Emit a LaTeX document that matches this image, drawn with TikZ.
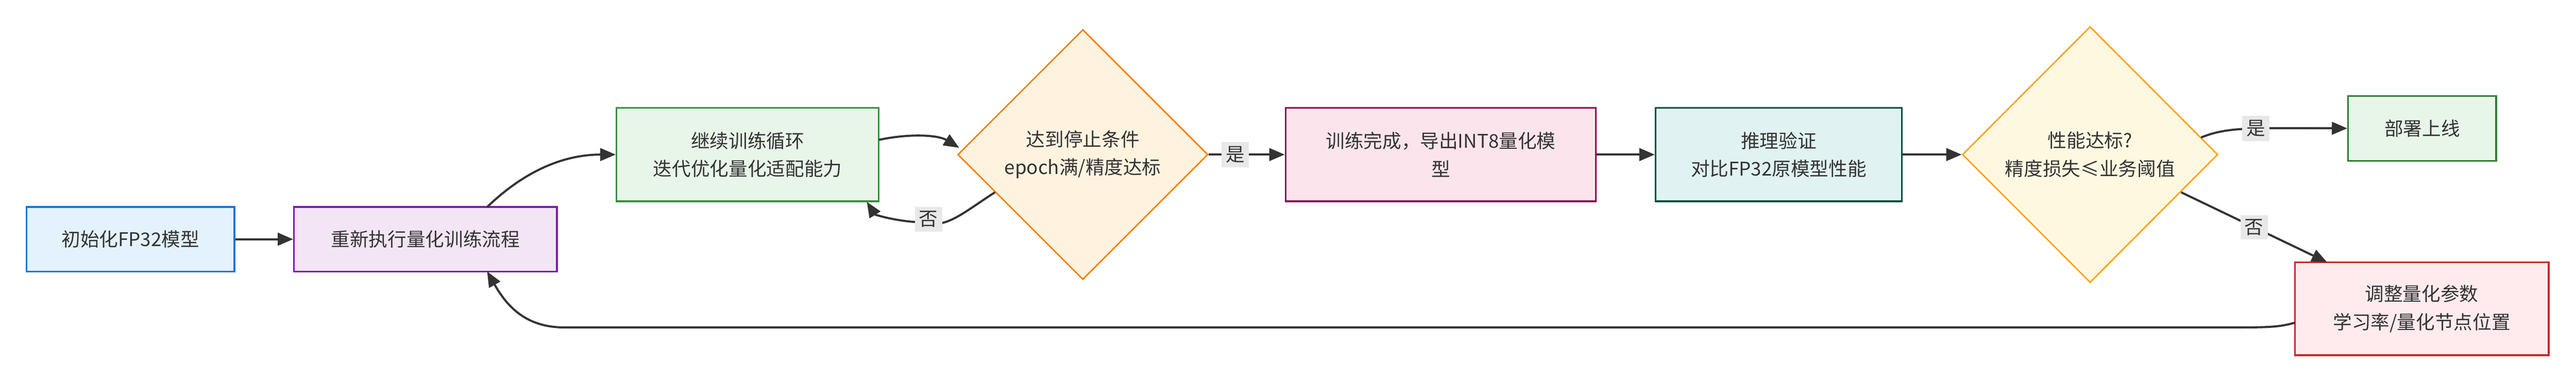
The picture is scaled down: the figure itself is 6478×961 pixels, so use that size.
\documentclass[tikz,border=0pt]{standalone}
\usepackage{fontspec}
\setmainfont{Noto Sans CJK SC}
\usetikzlibrary{arrows.meta,shapes.geometric}
\begin{document}
\begin{tikzpicture}[x=0.01cm,y=-0.01cm,
  box/.style={draw,line width=1.2pt,align=center,font=\fontsize{13.5}{20}\selectfont,text=black!80,inner sep=0pt},
  dia/.style={draw,line width=1pt,diamond,inner sep=0pt,shape aspect=0.5},
  dtxt/.style={align=center,font=\fontsize{13.5}{20}\selectfont,text=black!80},
  lab/.style={fill=black!9,font=\fontsize{13.5}{16}\selectfont,text=black!80,inner sep=3pt},
  arr/.style={draw=black!80,line width=1.5pt,-{Triangle[length=11pt,width=9pt]}}]
\useasboundingbox (0,0) rectangle (6478,961);
\definecolor{fa}{HTML}{E3F2FD}\definecolor{sa}{HTML}{1976D2}
\definecolor{fb}{HTML}{F3E5F5}\definecolor{sb}{HTML}{7B1FA2}
\definecolor{fc}{HTML}{E8F5E9}\definecolor{sc}{HTML}{388E3C}
\definecolor{fd}{HTML}{FFF3E0}\definecolor{sd}{HTML}{F57C00}
\definecolor{fe}{HTML}{FCE4EC}\definecolor{se}{HTML}{880E4F}
\definecolor{ff}{HTML}{E0F2F1}\definecolor{sf}{HTML}{004D40}
\definecolor{fg}{HTML}{FFF8E1}\definecolor{sg}{HTML}{FFA000}
\definecolor{fh}{HTML}{E8F5E9}\definecolor{sh}{HTML}{2E7D32}
\definecolor{fi}{HTML}{FFEBEE}\definecolor{si}{HTML}{C62828}
\node[box,fill=fa,draw=sa,minimum width=5.23cm,minimum height=1.62cm] (A) at (328,602) {初始化FP32模型};
\node[box,fill=fb,draw=sb,minimum width=6.61cm,minimum height=1.62cm] (B) at (1070,602) {重新执行量化训练流程};
\node[box,fill=fc,draw=sc,minimum width=6.59cm,minimum height=2.35cm] (C) at (1880,389) {继续训练循环\\迭代优化量化适配能力};
\node[dia,fill=fd,draw=sd,minimum width=6.29cm,minimum height=6.29cm] (D) at (2723,389) {};
\node[dtxt] (Dt) at (2723,389) {达到停止条件\\epoch满/精度达标};
\node[box,fill=fe,draw=se,minimum width=7.8cm,minimum height=2.35cm] (E) at (3623,389) {训练完成，导出INT8量化模\\型};
\node[box,fill=ff,draw=sf,minimum width=6.19cm,minimum height=2.35cm] (F) at (4473,389) {推理验证\\对比FP32原模型性能};
\node[dia,fill=fg,draw=sg,minimum width=6.42cm,minimum height=6.44cm] (G) at (5256,389) {};
\node[dtxt] (Gt) at (5256,389) {性能达标?\\精度损失≤业务阈值};
\node[box,fill=fh,draw=sh,minimum width=3.72cm,minimum height=1.63cm] (H) at (6091,323) {部署上线};
\node[box,fill=fi,draw=si,minimum width=6.38cm,minimum height=2.34cm] (I) at (6090,777) {调整量化参数\\学习率/量化节点位置};
\coordinate (c1) at (2210,352);
\coordinate (d1) at (2412,372);
\coordinate (d2) at (2502,484);
\coordinate (n1) at (2335,560);
\coordinate (c2) at (2180,508);
\coordinate (b1) at (1225,521);
\coordinate (b2) at (1225,683);
\coordinate (g1) at (5535,346);
\coordinate (g2) at (5485,484);
\coordinate (i1) at (5852,660);
\coordinate (i2) at (5771,812);
\path[arr] (A) -- (B);
\path[arr] (b1) .. controls (1330,420) and (1430,389) .. (C.west);
\path[arr] (c1) .. controls (2290,335) and (2360,340) .. (d1);
\path[draw=black!80,line width=1.5pt] (d2) .. controls (2430,530) and (2380,575) .. (n1);
\path[arr] (n1) .. controls (2260,560) and (2200,540) .. (c2);
\node[lab] (L1) at (2335,552) {否};
\path[arr] (D.east) -- node[lab,pos=0.35]{是} (E.west);
\path[arr] (E) -- (F);
\path[arr] (F) -- (G.west);
\path[arr] (g1) .. controls (5600,320) and (5650,322) .. (H.west);
\node[lab] (L2) at (5673,323) {是};
\path[arr] (g2) -- node[lab,pos=0.5]{否} (i1);
\path[arr] (i2) .. controls (5730,824) and (5700,824) .. (5600,824) -- (1420,824) .. controls (1330,824) and (1280,780) .. (b2);
\end{tikzpicture}
\end{document}
